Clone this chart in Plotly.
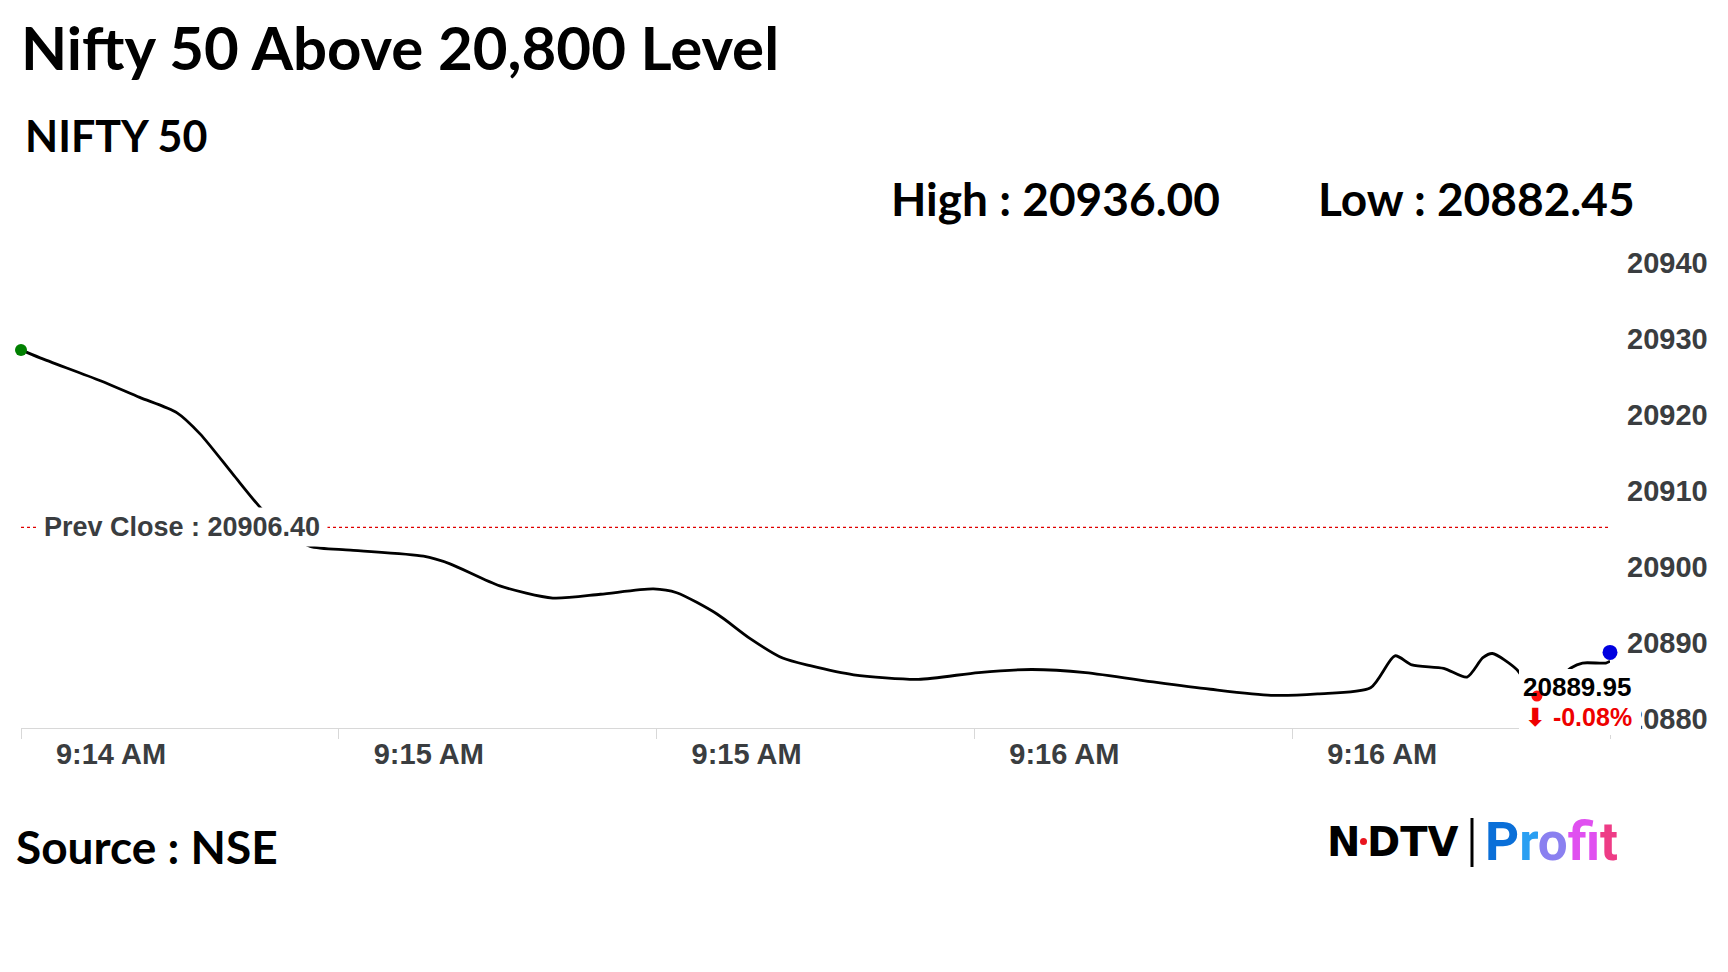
import plotly.graph_objects as go

# ---------------- data ----------------
DATE = "2023-12-06"
times = [
    "09:14:30.0", "09:14:31.8", "09:14:37.5", "09:14:41.2", "09:14:44.7", "09:14:46.9",
    "09:14:50.0", "09:14:52.6", "09:14:54.9", "09:14:57.3", "09:15:01.1", "09:15:08.0",
    "09:15:10.5", "09:15:15.2", "09:15:20.2", "09:15:24.7", "09:15:29.7", "09:15:31.9",
    "09:15:35.7", "09:15:38.8", "09:15:41.9", "09:15:44.5", "09:15:48.6", "09:15:54.7",
    "09:16:00.4", "09:16:05.4", "09:16:10.5", "09:16:17.2", "09:16:22.3", "09:16:28.0",
    "09:16:32.4", "09:16:37.4", "09:16:39.7", "09:16:41.3", "09:16:44.3", "09:16:46.5",
    "09:16:48.0", "09:16:48.9", "09:16:51.2", "09:16:53.1", "09:16:56.3", "09:16:57.4",
    "09:16:59.6", "09:17:00.0",
]
prices = [
    20929.75, 20928.7, 20925.7, 20923.5, 20921.5, 20918.7,
    20913.4, 20909.0, 20906.0, 20903.9, 20903.4, 20902.6,
    20901.6, 20898.7, 20897.1, 20897.6, 20898.3, 20897.8,
    20895.0, 20891.8, 20889.2, 20888.2, 20887.0, 20886.4,
    20887.3, 20887.7, 20887.3, 20886.0, 20885.1, 20884.3,
    20884.5, 20885.3, 20889.5, 20888.3, 20887.85, 20886.7,
    20889.25, 20889.8, 20887.7, 20884.2, 20887.9, 20888.55,
    20888.55, 20888.8,
]
marker_index = 39            # red dot sits on this sample
prev_close = 20906.40
last_time = "09:17:00.0"
last_price = 20889.95
change_pct = -0.08
day_high = 20936.00
day_low = 20882.45

x_start, x_end = "09:14:30", "09:17:00"
x_tickvals = ["09:14:30", "09:15:00", "09:15:30", "09:16:00", "09:16:30"]
x_tick_step_ms = 30000
y_tickvals = [20880, 20890, 20900, 20910, 20920, 20930, 20940]
y_range = [20880, 20940]

# ---------------- layout helpers ----------------
W, H = 1728, 972
ML, MR, MT, MB = 21, 118, 272, 244
PW, PH = W - ML - MR, H - MT - MB


def ts(t):
    return f"{DATE} {t}"


def px(X):
    return (X - ML) / PW


def py(Y):
    return (H - MB - Y) / PH


AXIS_FONT = dict(family="Liberation Sans, Arial, sans-serif", size=29, color="#3a3d40", weight="bold")
HEAD = "Lato, sans-serif"

fig = go.Figure()

fig.add_trace(go.Scatter(
    x=[ts(x_start), ts(x_end)], y=[prev_close, prev_close], mode="lines",
    line=dict(color="#e00000", width=1.2, dash="dot"), hoverinfo="skip"))

fig.add_trace(go.Scatter(
    x=[ts(t) for t in times], y=prices, mode="lines",
    line=dict(color="black", width=2.8, shape="spline", smoothing=0.7), hoverinfo="skip"))

fig.add_trace(go.Scatter(
    x=[ts(times[0])], y=[prices[0]], mode="markers",
    marker=dict(color="#008000", size=12), cliponaxis=False, hoverinfo="skip"))

fig.add_trace(go.Scatter(
    x=[ts(last_time)], y=[last_price], mode="markers",
    marker=dict(color="#0000e0", size=15), cliponaxis=False, hoverinfo="skip"))

shapes = [
    # white label panel hiding the line end
    dict(type="rect", xref="paper", yref="paper", x0=px(1519), x1=px(1641), y0=py(735), y1=py(669),
         fillcolor="white", line=dict(width=0), layer="above"),
    # red marker drawn on top of the panel
    dict(type="circle", xref="x", yref="y", xsizemode="pixel", ysizemode="pixel",
         xanchor=ts(times[marker_index]), yanchor=prices[marker_index],
         x0=-5.5, x1=5.5, y0=-5.5, y1=5.5, fillcolor="#ff1010", line=dict(width=0), layer="above"),
    # logo separator
    dict(type="line", xref="paper", yref="paper", x0=px(1472), x1=px(1472), y0=py(867), y1=py(818),
         line=dict(color="black", width=3), layer="above"),
    # logo red dot
    dict(type="circle", xref="paper", yref="paper", x0=px(1360), x1=px(1367), y0=py(845), y1=py(838),
         fillcolor="#e8141e", line=dict(width=0), layer="above"),
]

annotations = [
    dict(text="Nifty 50 Above 20,800 Level", x=px(19), y=py(47),
         font=dict(family=HEAD, size=60, color="black", weight="bold")),
    dict(text="NIFTY 50", x=px(23), y=py(136),
         font=dict(family=HEAD, size=43, color="black", weight="bold")),
    dict(text=f"High : {day_high:.2f}", x=px(889), y=py(198),
         font=dict(family=HEAD, size=46, color="black", weight="bold")),
    dict(text=f"Low : {day_low:.2f}", x=px(1316), y=py(198),
         font=dict(family=HEAD, size=46, color="black", weight="bold")),
    dict(text="Source : NSE", x=px(14), y=py(847),
         font=dict(family=HEAD, size=46, color="black", weight="bold")),
    dict(text="Prev Close : %.2f" % prev_close, x=px(36), y=prev_close, yref="y",
         font=dict(family="Liberation Sans, Arial, sans-serif", size=27, color="#3a3d40", weight="bold"),
         bgcolor="white", borderpad=4, width=282, height=30, align="center"),
    dict(text="%.2f" % last_price, x=px(1521), y=py(686.7),
         font=dict(family="Liberation Sans, Arial, sans-serif", size=26, color="black", weight="bold")),
    dict(text="⬇ %.2f%%" % change_pct, x=px(1523), y=py(716.5),
         font=dict(family="Liberation Sans, DejaVu Sans, sans-serif", size=25, color="#ee0000", weight="bold")),
    dict(text="N", x=px(1325), y=py(841.5),
         font=dict(family="DejaVu Sans, sans-serif", size=40, color="black", weight="bold")),
    dict(text="DTV", x=px(1365), y=py(841.5),
         font=dict(family="DejaVu Sans, sans-serif", size=40, color="black", weight="bold")),
    dict(text="<span style='color:#0a6fd8'>P</span><span style='color:#2a9ff2'>r</span>"
              "<span style='color:#8a80f0'>o</span><span style='color:#e050f0'>f</span>"
              "<span style='color:#f046c8'>i</span><span style='color:#ee3c86'>t</span>",
         x=px(1483), y=py(842),
         font=dict(family="Roboto, sans-serif", size=53, weight="bold")),
]
for a in annotations:
    a.setdefault("xref", "paper")
    a.setdefault("yref", "paper")
    a.setdefault("xanchor", "left")
    a.setdefault("yanchor", "middle")
    a.setdefault("showarrow", False)

fig.update_layout(
    width=W, height=H,
    margin=dict(l=ML, r=MR, t=MT, b=MB),
    paper_bgcolor="white", plot_bgcolor="white",
    showlegend=False,
    shapes=shapes,
    annotations=annotations,
    xaxis=dict(
        type="date",
        range=[ts(x_start), ts(x_end)],
        tickvals=[ts(v) for v in x_tickvals], tickformat="%-I:%M %p",
        ticks="outside", ticklen=10, tickwidth=1, tickcolor="#d8d8d8",
        minor=dict(ticks="outside", ticklen=10, tickwidth=1, tickcolor="#d8d8d8",
                   dtick=x_tick_step_ms, tick0=ts(x_start), showgrid=False),
        showline=True, linecolor="#d8d8d8", linewidth=1,
        showgrid=False, zeroline=False,
        tickfont=AXIS_FONT, ticklabelshift=90, ticklabelstandoff=-10,
    ),
    yaxis=dict(
        range=y_range, side="right", tickvals=y_tickvals, tickformat="d",
        ticks="", showgrid=False, zeroline=False, showline=False,
        tickfont=AXIS_FONT, ticklabelshift=-9, ticklabelstandoff=16,
    ),
)

fig.write_html("out.html", config={"displayModeBar": False},
               post_script="document.body.style.margin='0';")
